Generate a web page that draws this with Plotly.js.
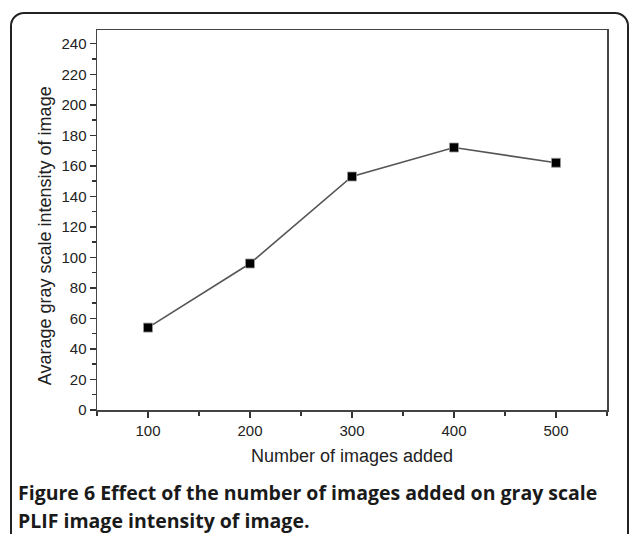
<!DOCTYPE html>
<html><head><meta charset="utf-8">
<script src="https://cdn.plot.ly/plotly-3.0.1.min.js"></script>
<style>
html,body{margin:0;padding:0;background:#fff;overflow:hidden;}
#frame{position:absolute;left:10px;top:12px;width:615px;height:600px;border:2px solid #222;border-radius:14px;}
#chart{position:absolute;left:0;top:0;width:629px;height:534px;}
</style></head>
<body>
<div id="frame"></div>
<div id="chart"></div>
<script>
const imagesAdded = [100, 200, 300, 400, 500];
const grayIntensity = [54, 96, 153, 172, 162];
const xTitle = "Number of images added";
const yTitle = "Avarage gray scale intensity of image";
const captionLine1 = "<b>Figure 6</b> <b>Effect of the number of images added on gray scale</b>";
const captionLine2 = "<b>PLIF image intensity of image.</b>";

const sans = "Liberation Sans, Arial, sans-serif";
const axisFont = {family: sans, size: 15, color: "#222"};
const trace = {
  x: imagesAdded, y: grayIntensity, type: "scatter", mode: "lines+markers",
  line: {color: "#555", width: 1.6},
  marker: {symbol: "square", size: 9, color: "#000", line: {color: "#999", width: 0.8}},
  hoverinfo: "none"
};
const layout = {
  width: 629, height: 534,
  margin: {l: 97, r: 22, t: 30, b: 124},
  paper_bgcolor: "rgba(0,0,0,0)", plot_bgcolor: "rgba(0,0,0,0)",
  showlegend: false,
  xaxis: {
    range: [50, 550], tick0: 100, dtick: 100, ticks: "outside", ticklen: 6, tickwidth: 1.5, tickcolor: "#333",
    minor: {dtick: 50, tick0: 50, ticks: "outside", ticklen: 4, tickwidth: 1.5, tickcolor: "#333"},
    showline: true, linecolor: "#444", linewidth: 1.5, mirror: true, showgrid: false, zeroline: false,
    tickfont: axisFont,
    title: {text: xTitle, font: {family: sans, size: 18, color: "#222"}, standoff: 12}
  },
  yaxis: {
    range: [0, 249], tick0: 0, dtick: 20, ticks: "outside", ticklen: 6, tickwidth: 1.5, tickcolor: "#333",
    minor: {dtick: 10, ticks: "outside", ticklen: 4, tickwidth: 1.5, tickcolor: "#333"},
    showline: true, linecolor: "#444", linewidth: 1.5, mirror: true, showgrid: false, zeroline: false,
    tickfont: axisFont
  },
  annotations: [
    {text: yTitle, xref: "paper", yref: "paper", x: -0.102, y: 0.46, xanchor: "center", yanchor: "middle",
     textangle: -90, showarrow: false, font: {family: sans, size: 18, color: "#222"}},
    {text: captionLine1, xref: "paper", yref: "paper", x: -0.159, y: -0.216, xanchor: "left", yanchor: "middle", showarrow: false,
     font: {family: "Open Sans, sans-serif", size: 19.5, color: "#1a1a1a"}},
    {text: captionLine2, xref: "paper", yref: "paper", x: -0.159, y: -0.292, xanchor: "left", yanchor: "middle", showarrow: false,
     font: {family: "Open Sans, sans-serif", size: 19.5, color: "#1a1a1a"}}
  ]
};
Plotly.newPlot("chart", [trace], layout, {displayModeBar: false, staticPlot: true});
</script>
</body></html>
